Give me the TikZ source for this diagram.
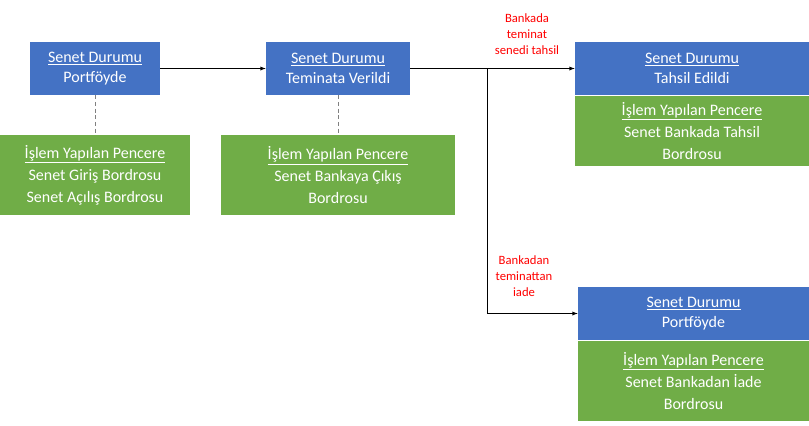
\documentclass[tikz,border=0pt]{standalone}
\usepackage{fontspec}
\setmainfont{Carlito}
\usetikzlibrary{positioning}
\definecolor{durumblue}{HTML}{4472C4}
\definecolor{pencgreen}{HTML}{70AD47}
\begin{document}
\begin{tikzpicture}[
x=0.75pt, y=-0.75pt,
durumnode/.style={rectangle, fill=durumblue, text=white, align=center, inner sep=0pt, font=\fontsize{12}{15}\selectfont},
pencnode/.style={rectangle, fill=pencgreen, text=white, align=center, inner sep=0pt, font=\fontsize{12}{16.5}\selectfont},
notenode/.style={text=red, align=center, font=\fontsize{9.5}{12}\selectfont}
]
\useasboundingbox (0,0) rectangle (809,425);
\node[durumnode, minimum width=97.5pt, minimum height=39.75pt] (D1) at (95,68.5) {\underline{Senet Durumu}\\Portföyde};
\node[pencnode, minimum width=142.5pt, minimum height=60pt] (P1) at (95,175) {\underline{İşlem Yapılan Pencere}\\Senet Giriş Bordrosu\\Senet Açılış Bordrosu};
\node[durumnode, minimum width=108pt, minimum height=39.75pt] (D2) at (338,68.5) {\underline{Senet Durumu}\\Teminata Verildi};
\node[pencnode, minimum width=175.5pt, minimum height=60pt] (P2) at (338,175) {\underline{İşlem Yapılan Pencere}\\Senet Bankaya Çıkış\\Bordrosu};
\node[durumnode, minimum width=175.5pt, minimum height=39.75pt] (D3) at (692,68.5) {\underline{Senet Durumu}\\Tahsil Edildi};
\node[pencnode, minimum width=175.5pt, minimum height=52.5pt, below=0pt of D3] (P3) {\underline{İşlem Yapılan Pencere}\\Senet Bankada Tahsil\\Bordrosu};
\node[durumnode, minimum width=173.25pt, minimum height=39.75pt] (D4) at (693.5,313.5) {\underline{Senet Durumu}\\Portföyde};
\node[pencnode, minimum width=173.25pt, minimum height=60pt, below=0pt of D4] (P4) {\underline{İşlem Yapılan Pencere}\\Senet Bankadan İade\\Bordrosu};
\node[notenode] (N1) at (527,34) {Bankada\\teminat\\senedi tahsil};
\node[notenode] (N2) at (524,276) {Bankadan\\teminattan\\iade};
\coordinate (B) at (487,68.5);
\coordinate (C) at (487,313.5);

\draw[gray, densely dashed] (D1) -- (P1);
\draw[gray, densely dashed] (D2) -- (P2);
\draw[-latex] (D1) -- (D2);
\draw[-latex] (D2) -- (D3);
\draw[-latex] (B) -- (C) -- (D4);
\end{tikzpicture}
\end{document}
